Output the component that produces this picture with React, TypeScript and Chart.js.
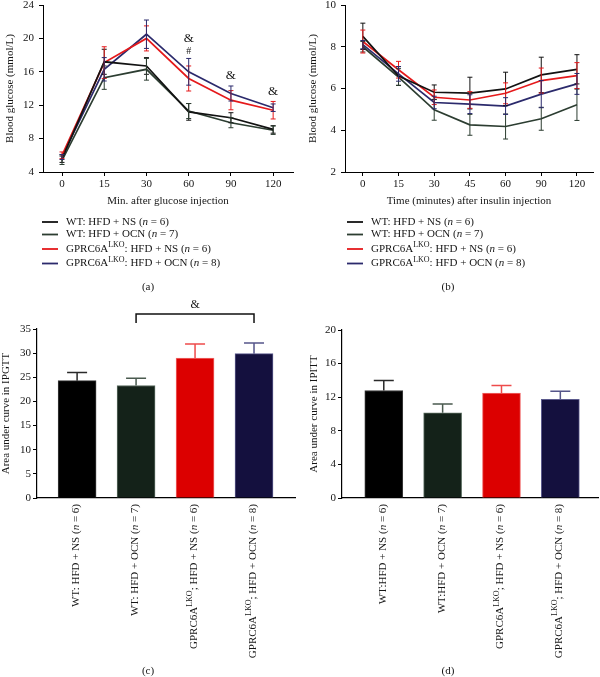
import React, { useEffect, useRef } from 'react';
import { Chart, registerables } from 'chart.js';

Chart.register(...registerables);

const FONT = '"Liberation Serif", "Times New Roman", serif';
const TEXT = '#151515';

// ---------- Panel (a): IPGTT ----------
const ipgttTimes = ['0', '15', '30', '60', '90', '120'];
const ipgttWtNs = [5.6, 17.2, 16.7, 11.2, 10.5, 9.1];
const ipgttWtNsErr = [0.45, 1.5, 1.0, 1.0, 0.6, 0.45];
const ipgttWtOcn = [5.4, 15.3, 16.3, 11.3, 9.9, 9.0];
const ipgttWtOcnErr = [0.5, 1.4, 1.3, 0.9, 0.6, 0.5];
const ipgttKoNs = [6.0, 17.1, 20.0, 15.2, 12.6, 11.4];
const ipgttKoNsErr = [0.4, 1.9, 1.5, 1.5, 1.15, 1.05];
const ipgttKoOcn = [5.8, 16.3, 20.5, 16.0, 13.4, 11.7];
const ipgttKoOcnErr = [0.3, 1.4, 1.7, 1.6, 0.9, 0.45];
const ipgttMarks = [
  { i: 3, v: 20.0, t: '&', size: 13 },
  { i: 3, v: 18.5, t: '#', size: 10 },
  { i: 4, v: 15.5, t: '&', size: 13 },
  { i: 5, v: 13.6, t: '&', size: 13 },
];

// ---------- Panel (b): IPITT ----------
const ipittTimes = ['0', '15', '30', '45', '60', '90', '120'];
const ipittWtNs = [8.5, 6.6, 5.82, 5.78, 5.98, 6.65, 6.92];
const ipittWtNsErr = [0.63, 0.45, 0.35, 0.76, 0.8, 0.85, 0.7];
const ipittWtOcn = [8.0, 6.55, 4.98, 4.26, 4.18, 4.55, 5.22];
const ipittWtOcnErr = [0.25, 0.4, 0.5, 0.5, 0.6, 0.55, 0.75];
const ipittKoNs = [8.25, 6.9, 5.58, 5.45, 5.77, 6.38, 6.62];
const ipittKoNsErr = [0.55, 0.4, 0.35, 0.4, 0.5, 0.6, 0.62];
const ipittKoOcn = [8.1, 6.7, 5.33, 5.25, 5.16, 5.73, 6.22];
const ipittKoOcnErr = [0.2, 0.35, 0.3, 0.45, 0.4, 0.65, 0.5];

const groupNames = [
  'WT: HFD + NS (_n_ = 6)',
  'WT: HFD + OCN (_n_ = 7)',
  'GPRC6A^{LKO}: HFD + NS (_n_ = 6)',
  'GPRC6A^{LKO}: HFD + OCN (_n_ = 8)',
];
const lineColors = ['#121212', '#2c3d31', '#e5191b', '#2b2a6c'];

// ---------- Panel (c): AUC IPGTT ----------
const aucLabelsC = [
  'WT: HFD + NS (_n_ = 6)',
  'WT: HFD + OCN (_n_ = 7)',
  'GPRC6A^{LKO}; HFD + NS (_n_ = 6)',
  'GPRC6A^{LKO}; HFD + OCN (_n_ = 8)',
];
const aucIpgtt = [24.3, 23.3, 29.0, 29.9];
const aucIpgttErr = [1.7, 1.5, 2.9, 2.2];
const aucIpgttBracket = { from: 1, to: 3, text: '&' };

// ---------- Panel (d): AUC IPITT ----------
const aucLabelsD = [
  'WT:HFD + NS (_n_ = 6)',
  'WT:HFD + OCN (_n_ = 7)',
  'GPRC6A^{LKO}; HFD + NS (_n_ = 6)',
  'GPRC6A^{LKO}; HFD + OCN (_n_ = 8)',
];
const aucIpitt = [12.8, 10.15, 12.5, 11.75];
const aucIpittErr = [1.2, 1.05, 0.9, 0.95];

const barFill = ['#000000', '#142219', '#dc0000', '#14103e'];
const barEdge = ['#3a3a3a', '#5b6d61', '#f06a6a', '#5b5a8c'];
const barErrColor = ['#2a2a2a', '#4a5a4f', '#ee4b4b', '#55558a'];

// ---------- rich text helpers ----------
type Seg = { t: string; sup?: boolean; it?: boolean };
function parseRich(s: string): Seg[] {
  const out: Seg[] = [];
  const re = /\^\{([^}]*)\}|_([^_]+)_/g;
  let last = 0;
  let m: RegExpExecArray | null;
  while ((m = re.exec(s))) {
    if (m.index > last) out.push({ t: s.slice(last, m.index) });
    if (m[1] !== undefined) out.push({ t: m[1], sup: true });
    else out.push({ t: m[2], it: true });
    last = re.lastIndex;
  }
  if (last < s.length) out.push({ t: s.slice(last) });
  return out;
}
function segFont(seg: Seg, size: number) {
  return `${seg.it ? 'italic ' : ''}${seg.sup ? Math.round(size * 0.75) : size}px ${FONT}`;
}
function drawRich(ctx: any, s: string, x: number, y: number, size: number, align: string, color: string) {
  const segs = parseRich(s);
  ctx.save();
  ctx.fillStyle = color;
  ctx.textBaseline = 'middle';
  ctx.textAlign = 'left';
  const widths = segs.map((seg) => {
    ctx.font = segFont(seg, size);
    return ctx.measureText(seg.t).width;
  });
  const total = widths.reduce((a, b) => a + b, 0);
  let cx = align === 'left' ? x : align === 'center' ? x - total / 2 : x - total;
  segs.forEach((seg, i) => {
    ctx.font = segFont(seg, size);
    ctx.fillText(seg.t, cx, seg.sup ? y - size * 0.36 : y);
    cx += widths[i];
  });
  ctx.restore();
}

const zeroPad = (s: any) => {
  s.paddingLeft = 0;
  s.paddingRight = 0;
  s.paddingTop = 0;
  s.paddingBottom = 0;
};
const fixW = (w: number) => (s: any) => {
  s.width = w;
  zeroPad(s);
};
const fixH = (h: number) => (s: any) => {
  s.height = h;
  zeroPad(s);
};
const tickFont = { family: FONT, size: 11 };
const titleFont = { family: FONT, size: 11 };

// ---------- line panel ----------
function makeLineChart(canvas: HTMLCanvasElement, o: any) {
  const extras = {
    id: 'lineExtras',
    afterDatasetsDraw(chart: any) {
      const { ctx, scales } = chart;
      const x = scales.x;
      const y = scales.y;
      ctx.save();
      ctx.lineWidth = 1;
      o.series.forEach((vals: number[], si: number) => {
        ctx.strokeStyle = lineColors[si];
        vals.forEach((v, i) => {
          const e = o.errors[si][i];
          const px = x.getPixelForValue(i);
          const y1 = y.getPixelForValue(v + e);
          const y2 = y.getPixelForValue(v - e);
          ctx.beginPath();
          ctx.moveTo(px, y1);
          ctx.lineTo(px, y2);
          ctx.moveTo(px - 2.5, y1);
          ctx.lineTo(px + 2.5, y1);
          ctx.moveTo(px - 2.5, y2);
          ctx.lineTo(px + 2.5, y2);
          ctx.stroke();
        });
      });
      ctx.restore();
    },
    afterDraw(chart: any) {
      const { ctx, chartArea, scales, width } = chart;
      const x = scales.x;
      const y = scales.y;
      (o.marks || []).forEach((m: any) => {
        ctx.save();
        ctx.fillStyle = TEXT;
        ctx.font = `${m.size}px ${FONT}`;
        ctx.textAlign = 'center';
        ctx.textBaseline = 'middle';
        ctx.fillText(m.t, x.getPixelForValue(m.i), y.getPixelForValue(m.v));
        ctx.restore();
      });
      let ly = chartArea.bottom + 50;
      groupNames.forEach((name, i) => {
        if (i > 0) ly += name.includes('^{') ? 14.5 : 12.5;
        ctx.save();
        ctx.strokeStyle = lineColors[i];
        ctx.lineWidth = 1.8;
        ctx.beginPath();
        ctx.moveTo(o.legendX, ly);
        ctx.lineTo(o.legendX + 16, ly);
        ctx.stroke();
        ctx.restore();
        drawRich(ctx, name, o.legendX + 24, ly, 11, 'left', TEXT);
      });
      drawRich(ctx, o.caption, width / 2 - 2, chartArea.bottom + 115, 11, 'center', TEXT);
    },
  };
  return new Chart(canvas, {
    type: 'line',
    data: {
      datasets: o.series.map((vals: number[], si: number) => ({
        label: groupNames[si],
        data: vals.map((v, i) => ({ x: i, y: v })),
        borderColor: lineColors[si],
        backgroundColor: lineColors[si],
        borderWidth: 1.7,
        pointRadius: 0,
        pointHoverRadius: 0,
        tension: 0,
        fill: false,
      })),
    },
    options: {
      responsive: false,
      animation: false,
      devicePixelRatio: 1,
      events: [],
      layout: { padding: o.pad },
      plugins: { legend: { display: false }, tooltip: { enabled: false } },
      scales: {
        x: {
          type: 'linear',
          min: o.xMin,
          max: o.xMax,
          offset: false,
          afterBuildTicks: (s: any) => {
            s.ticks = o.labels.map((_: string, i: number) => ({ value: i }));
          },
          afterFit: fixH(40),
          ticks: {
            callback: (v: number) => o.labels[v] ?? '',
            font: tickFont,
            color: TEXT,
            padding: 2,
            maxRotation: 0,
            autoSkip: false,
          },
          grid: { drawOnChartArea: false, drawTicks: true, tickLength: 4, color: '#000', offset: false },
          border: { color: '#000', width: 1 },
          title: { display: true, text: o.xTitle, font: titleFont, color: TEXT, padding: { top: 4, bottom: 4 } },
        },
        y: {
          min: o.yMin,
          max: o.yMax,
          afterFit: fixW(o.yWidth),
          ticks: { stepSize: o.yStep, font: tickFont, color: TEXT, padding: 5 },
          grid: { drawOnChartArea: false, drawTicks: true, tickLength: 4, color: '#000' },
          border: { color: '#000', width: 1 },
          title: { display: true, text: o.yTitle, font: titleFont, color: TEXT, padding: { top: o.yTitlePad, bottom: 0 } },
        },
      },
    } as any,
    plugins: [extras],
  });
}

// ---------- bar panel ----------
function makeBarChart(canvas: HTMLCanvasElement, o: any) {
  const extras = {
    id: 'barExtras',
    afterDatasetsDraw(chart: any) {
      const { ctx, scales } = chart;
      const x = scales.x;
      const y = scales.y;
      o.values.forEach((v: number, i: number) => {
        const px = x.getPixelForValue(i);
        const yTop = y.getPixelForValue(v);
        const yErr = y.getPixelForValue(v + o.errors[i]);
        ctx.save();
        ctx.strokeStyle = barErrColor[i];
        ctx.lineWidth = 1.5;
        ctx.beginPath();
        ctx.moveTo(px, yTop);
        ctx.lineTo(px, yErr);
        ctx.moveTo(px - 10, yErr);
        ctx.lineTo(px + 10, yErr);
        ctx.stroke();
        ctx.restore();
      });
    },
    afterDraw(chart: any) {
      const { ctx, chartArea, scales, width } = chart;
      const x = scales.x;
      o.labels.forEach((lab: string, i: number) => {
        ctx.save();
        ctx.translate(x.getPixelForValue(i) - 1, chartArea.bottom + 6);
        ctx.rotate(-Math.PI / 2);
        drawRich(ctx, lab, 0, 0, 11, 'right', TEXT);
        ctx.restore();
      });
      if (o.bracket) {
        const x1 = x.getPixelForValue(o.bracket.from);
        const x2 = x.getPixelForValue(o.bracket.to);
        const yb = chartArea.top - 15;
        ctx.save();
        ctx.strokeStyle = '#111';
        ctx.lineWidth = 1.5;
        ctx.beginPath();
        ctx.moveTo(x1, chartArea.top - 6);
        ctx.lineTo(x1, yb);
        ctx.lineTo(x2, yb);
        ctx.lineTo(x2, chartArea.top - 6);
        ctx.stroke();
        ctx.restore();
        drawRich(ctx, o.bracket.text, (x1 + x2) / 2, chartArea.top - 24, 12, 'center', TEXT);
      }
      drawRich(ctx, o.caption, width / 2 - 2, chartArea.bottom + 173, 11, 'center', TEXT);
    },
  };
  return new Chart(canvas, {
    type: 'bar',
    data: {
      datasets: [
        {
          label: o.yTitle,
          data: o.values.map((v: number, i: number) => ({ x: i, y: v })),
          backgroundColor: barFill,
          borderColor: barEdge,
          borderWidth: 1,
          barThickness: 38,
        },
      ],
    },
    options: {
      responsive: false,
      animation: false,
      devicePixelRatio: 1,
      events: [],
      layout: { padding: o.pad },
      plugins: { legend: { display: false }, tooltip: { enabled: false } },
      scales: {
        x: {
          type: 'linear',
          min: o.xMin,
          max: o.xMax,
          offset: false,
          afterFit: fixH(10),
          ticks: { display: false },
          grid: { display: false, offset: false },
          border: { color: '#000', width: 1.2 },
        },
        y: {
          type: 'linear',
          min: 0,
          max: o.yMax,
          beginAtZero: true,
          afterFit: fixW(o.yWidth),
          ticks: { stepSize: o.yStep, font: tickFont, color: TEXT, padding: 2 },
          grid: { drawOnChartArea: false, drawTicks: true, tickLength: 4, color: '#000' },
          border: { color: '#000', width: 1.2 },
          title: { display: true, text: o.yTitle, font: titleFont, color: TEXT, padding: { top: o.yTitlePad, bottom: 0 } },
        },
      },
    } as any,
    plugins: [extras],
  });
}

const makeA = (c: HTMLCanvasElement) =>
  makeLineChart(c, {
    labels: ipgttTimes,
    series: [ipgttWtNs, ipgttWtOcn, ipgttKoNs, ipgttKoOcn],
    errors: [ipgttWtNsErr, ipgttWtOcnErr, ipgttKoNsErr, ipgttKoOcnErr],
    yMin: 4,
    yMax: 24,
    yStep: 4,
    xMin: -0.45,
    xMax: 5.47,
    yTitle: 'Blood glucose (mmol/L)',
    xTitle: 'Min. after glucose injection',
    caption: '(a)',
    marks: ipgttMarks,
    pad: { left: 0, top: 5, right: 7, bottom: 88 },
    yWidth: 43,
    yTitlePad: 4,
    legendX: 42,
  });

const makeB = (c: HTMLCanvasElement) =>
  makeLineChart(c, {
    labels: ipittTimes,
    series: [ipittWtNs, ipittWtOcn, ipittKoNs, ipittKoOcn],
    errors: [ipittWtNsErr, ipittWtOcnErr, ipittKoNsErr, ipittKoOcnErr],
    yMin: 2,
    yMax: 10,
    yStep: 2,
    xMin: -0.5,
    xMax: 6.45,
    yTitle: 'Blood glucose (mmol/L)',
    xTitle: 'Time (minutes) after insulin injection',
    caption: '(b)',
    marks: [],
    pad: { left: 0, top: 5, right: 7, bottom: 88 },
    yWidth: 45,
    yTitlePad: 7,
    legendX: 47,
  });

const makeC = (c: HTMLCanvasElement) =>
  makeBarChart(c, {
    labels: aucLabelsC,
    values: aucIpgtt,
    errors: aucIpgttErr,
    yMax: 35,
    yStep: 5,
    xMin: -0.68,
    xMax: 3.695,
    yTitle: 'Area under curve in IPGTT',
    caption: '(c)',
    bracket: aucIpgttBracket,
    pad: { left: 0, top: 29, right: 5, bottom: 169 },
    yWidth: 37,
    yTitlePad: 0,
  });

const makeD = (c: HTMLCanvasElement) =>
  makeBarChart(c, {
    labels: aucLabelsD,
    values: aucIpitt,
    errors: aucIpittErr,
    yMax: 20,
    yStep: 4,
    xMin: -0.71,
    xMax: 3.64,
    yTitle: 'Area under curve in IPITT',
    caption: '(d)',
    bracket: null,
    pad: { left: 0, top: 30, right: 2, bottom: 169 },
    yWidth: 42,
    yTitlePad: 8,
  });

function ChartBox({ x, y, w, h, make }: any) {
  const ref = useRef<HTMLCanvasElement>(null);
  useEffect(() => {
    const chart = make(ref.current);
    return () => chart.destroy();
  }, [make]);
  return (
    <canvas
      ref={ref}
      width={w}
      height={h}
      style={{ position: 'absolute', left: x, top: y, width: w, height: h }}
    />
  );
}

export default function App() {
  return (
    <div style={{ position: 'absolute', left: 0, top: 0, width: 600, height: 677, background: '#fff', overflow: 'hidden' }}>
      <ChartBox x={0} y={0} w={300} h={300} make={makeA} />
      <ChartBox x={300} y={0} w={300} h={300} make={makeB} />
      <ChartBox x={0} y={300} w={300} h={377} make={makeC} />
      <ChartBox x={300} y={300} w={300} h={377} make={makeD} />
    </div>
  );
}
